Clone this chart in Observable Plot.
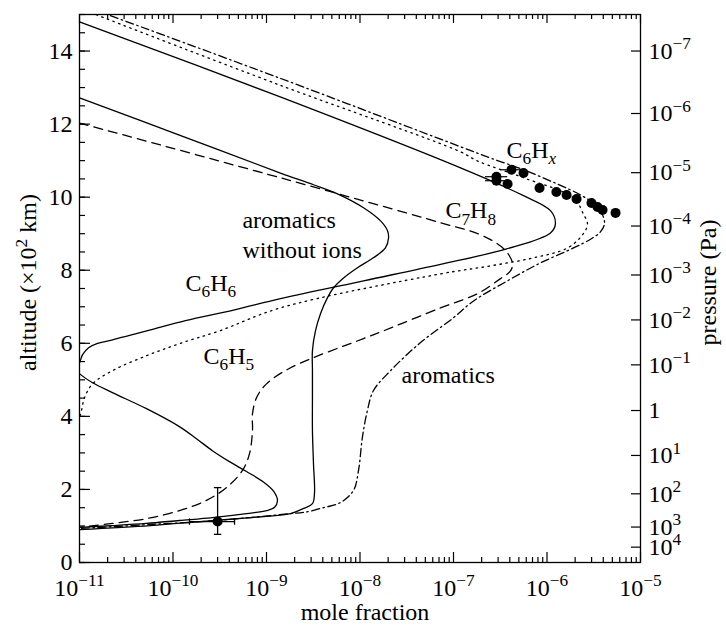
<!DOCTYPE html>
<html><head><meta charset="utf-8">
<script src="https://cdn.jsdelivr.net/npm/d3@7"></script>
<script src="https://cdn.jsdelivr.net/npm/@observablehq/plot@0.6"></script>
<style>body{margin:0;background:#fff} svg text{font-family:"Liberation Serif","Times New Roman",serif;}</style>
</head><body><div id="chart"></div>
<script>
// ---- data: [mole fraction, altitude (x100 km)] ----
const c6h6 = [[1.0e-11,14.80],[1.38e-9,12.75],[1.19e-7,10.80],[5.61e-7,10.04],[1.09e-6,9.63],[1.23e-6,9.27],[1.09e-6,9.02],[3.78e-7,8.59],[7.26e-8,8.16],[1.09e-8,7.71],[1.41e-9,7.22],[4.44e-10,6.91],[1.36e-10,6.62],[5.61e-11,6.36],[3.43e-11,6.22],[2.15e-11,6.08],[1.56e-11,6.00],[1.25e-11,5.88],[1.08e-11,5.69],[1.0e-11,5.47],[9.3e-12,5.36]];
const c6h5 = [[9.3e-12,5.26],[1.0e-11,5.17],[1.38e-11,4.92],[2.25e-11,4.65],[5.21e-11,4.21],[1.17e-10,3.72],[1.78e-10,3.39],[2.64e-10,3.06],[4.02e-10,2.76],[6.11e-10,2.49],[9.2e-10,2.21],[1.2e-9,1.94],[1.31e-9,1.69],[1.22e-9,1.51],[1.0e-9,1.42],[6.11e-10,1.34],[2.64e-10,1.23],[1.17e-10,1.15],[5.21e-11,1.07],[2.25e-11,1.01],[1.0e-11,0.96],[9e-12,0.95]];
const aromaticsNoIons = [[1.0e-11,12.72],[1.17e-10,11.70],[1.41e-9,10.66],[3.18e-9,10.34],[5.74e-9,10.09],[1.09e-8,9.71],[1.66e-8,9.35],[1.97e-8,9.08],[2.02e-8,8.89],[1.87e-8,8.61],[1.39e-8,8.34],[9.4e-9,8.07],[6.67e-9,7.79],[5.21e-9,7.52],[4.49e-9,7.25],[3.78e-9,6.81],[3.34e-9,6.34],[3.10e-9,5.80],[3.10e-9,5.25],[3.10e-9,4.51],[3.10e-9,3.61],[3.18e-9,2.71],[3.26e-9,1.89],[3.10e-9,1.61],[2.49e-9,1.48],[1.81e-9,1.34],[6.75e-10,1.23],[1.97e-10,1.12],[5.74e-11,1.01],[1.0e-11,0.90]];
const c7h8 = [[1.0e-11,12.03],[1.41e-9,10.53],[7.26e-8,9.30],[1.95e-7,8.97],[3.26e-7,8.64],[3.97e-7,8.39],[4.28e-7,8.18],[4.07e-7,7.98],[3.18e-7,7.77],[1.81e-7,7.36],[7.26e-8,6.97],[1.78e-8,6.34],[1.09e-8,6.13],[1.81e-9,5.33],[1.0e-9,4.89],[7.82e-10,4.51],[7.08e-10,4.07],[7.08e-10,3.61],[6.58e-10,2.98],[5.53e-10,2.52],[3.73e-10,2.05],[2.28e-10,1.70],[1.17e-10,1.42],[5.21e-11,1.20],[2.25e-11,1.07],[1.0e-11,0.96]];
const c6hxModel = [[1.0e-11,15.18],[1.56e-11,14.98],[1.38e-9,13.07],[1.19e-7,11.24],[1.81e-7,10.99],[5.61e-7,10.53],[1.92e-6,9.98],[2.45e-6,9.54],[2.71e-6,9.27],[2.45e-6,9.00],[1.66e-6,8.61],[7.18e-7,8.34],[2.49e-7,8.12],[7.26e-8,7.90],[1.41e-9,6.97],[3.14e-10,6.34],[1.17e-10,5.99],[5.21e-11,5.66],[2.25e-11,5.25],[1.38e-11,4.89],[1.13e-11,4.51],[1.05e-11,4.16],[1.0e-11,3.96]];
const aromatics = [[1.0e-11,15.28],[2.09e-11,14.98],[1.38e-9,13.26],[1.19e-7,11.38],[2.49e-7,11.07],[5.61e-7,10.75],[1.29e-6,10.36],[2.28e-6,10.06],[3.30e-6,9.79],[3.93e-6,9.51],[4.12e-6,9.27],[3.73e-6,9.05],[2.92e-6,8.85],[1.92e-6,8.61],[8.51e-7,8.20],[3.78e-7,7.71],[1.64e-7,7.16],[1.0e-7,6.70],[4.44e-8,6.02],[2.12e-8,5.25],[1.39e-8,4.70],[1.20e-8,4.16],[1.06e-8,3.42],[9.64e-9,2.52],[8.51e-9,1.97],[6.18e-9,1.64],[4.07e-9,1.50],[2.49e-9,1.37],[1.81e-9,1.34],[6.75e-10,1.23],[1.97e-10,1.12],[5.74e-11,1.04],[1.0e-11,0.93]];

// observations
const c6hxObs = [[4.17e-7,10.75],[5.61e-7,10.66],[2.88e-7,10.56],[2.88e-7,10.45],[3.79e-7,10.36],[8.32e-7,10.25],[1.26e-6,10.14],[1.62e-6,10.06],[2.07e-6,9.95],[2.99e-6,9.84],[3.47e-6,9.73],[3.93e-6,9.65],[5.41e-6,9.57]];
const c6hxXErr = [[10.75,3.2e-7,5.4e-7],[10.56,2.2e-7,3.8e-7],[10.45,2.2e-7,3.8e-7]];
const lowObs = [[3.0e-10,1.12]];
const lowObsXErr = [1.5e-10, 4.55e-10];
const lowObsYErr = [0.77, 2.05];

// ticks & labels
const xDecades = [1e-11,1e-10,1e-9,1e-8,1e-7,1e-6,1e-5];
const xTickLabels = ["10^{−11}","10^{−10}","10^{−9}","10^{−8}","10^{−7}","10^{−6}","10^{−5}"];
const yTicks = [0,2,4,6,8,10,12,14];
const pressureAlt = [14.0,12.29,10.67,9.21,7.87,6.64,5.41,4.16,2.93,1.88,0.97,0.42];
const pressureLabels = ["10^{−7}","10^{−6}","10^{−5}","10^{−4}","10^{−3}","10^{−2}","10^{−1}","1","10^{1}","10^{2}","10^{3}","10^{4}"];
const curveLabels = [
  {x:3.69e-7, y:11.29, text:"C_{6}H_{*x*}"},
  {x:8.2e-8,  y:9.64,  text:"C_{7}H_{8}"},
  {x:1.36e-10,y:7.65,  text:"C_{6}H_{6}"},
  {x:2.12e-10,y:5.65,  text:"C_{6}H_{5}"},
  {x:5.53e-10,y:9.37,  text:"aromatics"},
  {x:5.53e-10,y:8.55,  text:"without ions"},
  {x:2.78e-8, y:5.13,  text:"aromatics"}
];
const xTitle = "mole fraction";
const yTitle = "altitude (×10^{2} km)";
const y2Title = "pressure (Pa)";

// ---- layout ----
const W = 726, H = 627, mL = 79, mR = 86, mT = 14, mB = 65;
const pw = W - mL - mR, ph = H - mT - mB;
const FS = 24;
const FF = "Liberation Serif, Times New Roman, serif";
const minorX = xDecades.slice(0, -1).flatMap(d => [2,3,4,5,6,7,8,9].map(k => k * d));
const minorY = d3.range(0, 15.01, 0.5);
const pressure = pressureAlt.map((a, i) => ({alt: a, label: pressureLabels[i]}));
const px = d => d[0], py = d => d[1];
const lineOpts = {x: px, y: py, curve: "catmull-rom", stroke: "black", strokeWidth: 1.3, clip: true};
const txt = {fontSize: FS, fontFamily: FF, fill: "black"};
const hCap = {draw(ctx, size) { const w = Math.sqrt(size); ctx.moveTo(-w, 0); ctx.lineTo(w, 0); }};
const vCap = {draw(ctx, size) { const w = Math.sqrt(size); ctx.moveTo(0, -w); ctx.lineTo(0, w); }};

const svg = Plot.plot({
  width: W, height: H,
  marginLeft: mL, marginRight: mR, marginTop: mT, marginBottom: mB,
  style: {fontFamily: FF, fontSize: FS + "px", background: "white", color: "black"},
  x: {type: "log", domain: [1e-11, 1e-5], axis: null},
  y: {domain: [0, 15], axis: null},
  marks: [
    Plot.line(c6h6, lineOpts),
    Plot.line(c6h5, lineOpts),
    Plot.line(aromaticsNoIons, lineOpts),
    Plot.line(c7h8, {...lineOpts, strokeDasharray: "9,6"}),
    Plot.line(c6hxModel, {...lineOpts, strokeDasharray: "1.5,4.5"}),
    Plot.line(aromatics, {...lineOpts, strokeDasharray: "8,3.5,1.5,3.5"}),
    // error bars
    Plot.ruleY(c6hxXErr, {y: d => d[0], x1: d => d[1], x2: d => d[2], stroke: "black", strokeWidth: 1.2}),
    Plot.ruleX(lowObs, {x: px, y1: lowObsYErr[0], y2: lowObsYErr[1], stroke: "black", strokeWidth: 1.3}),
    Plot.ruleY(lowObs, {y: py, x1: lowObsXErr[0], x2: lowObsXErr[1], stroke: "black", strokeWidth: 1.3}),
    Plot.dot(lowObsYErr.map(v => [lowObs[0][0], v]), {x: px, y: py, symbol: hCap, r: 2.1, stroke: "black", fill: "none", strokeWidth: 1.3}),
    Plot.dot(lowObsXErr.map(v => [v, lowObs[0][1]]), {x: px, y: py, symbol: vCap, r: 1.8, stroke: "black", fill: "none", strokeWidth: 1.3}),
    Plot.dot(c6hxObs, {x: px, y: py, r: 5, fill: "black", stroke: "none"}),
    Plot.dot(lowObs, {x: px, y: py, r: 5, fill: "black", stroke: "none"}),
    // ticks (inward)
    Plot.ruleY(yTicks, {y: d => d, insetRight: pw - 11, stroke: "black", strokeWidth: 1.2}),
    Plot.ruleY(minorY, {y: d => d, insetRight: pw - 6, stroke: "black", strokeWidth: 1.2}),
    Plot.ruleY(pressureAlt, {y: d => d, insetLeft: pw - 9, stroke: "black", strokeWidth: 1.2}),
    Plot.ruleX(xDecades, {x: d => d, insetTop: ph - 10, stroke: "black", strokeWidth: 1.2}),
    Plot.ruleX(minorX, {x: d => d, insetTop: ph - 5, stroke: "black", strokeWidth: 1.2}),
    Plot.ruleX(xDecades, {x: d => d, insetBottom: ph - 9, stroke: "black", strokeWidth: 1.2}),
    Plot.ruleX(minorX, {x: d => d, insetBottom: ph - 5, stroke: "black", strokeWidth: 1.2}),
    Plot.frame({stroke: "black", strokeWidth: 1.3}),
    // tick labels
    Plot.axisY(yTicks, {anchor: "left", tickSize: 0, tickPadding: 7, label: null, ...txt}),
    Plot.axisX(xDecades, {anchor: "bottom", tickSize: 0, tickPadding: 16, label: null, ...txt,
      tickFormat: d => xTickLabels[xDecades.indexOf(d)]}),
    Plot.text(pressure, {y: "alt", text: "label", frameAnchor: "right", dx: 8, textAnchor: "start", lineAnchor: "middle", ...txt}),
    // annotations
    Plot.text(curveLabels, {x: "x", y: "y", text: "text", textAnchor: "start", lineAnchor: "middle", ...txt}),
    // titles
    Plot.text([xTitle], {text: d => d, frameAnchor: "bottom", textAnchor: "middle", lineAnchor: "middle", dx: 5, dy: 50, ...txt}),
    Plot.text([yTitle], {text: d => d, frameAnchor: "left", textAnchor: "middle", lineAnchor: "middle", dx: -51, dy: -6, rotate: -90, ...txt}),
    Plot.text([y2Title], {text: d => d, frameAnchor: "right", textAnchor: "middle", lineAnchor: "middle", dx: 68, dy: -6, rotate: -90, ...txt})
  ]
});
svg.setAttribute("font-family", FF);
document.getElementById("chart").appendChild(svg);

// convert ^{..} / _{..} / *..* markup into real tspans
function richify(root) {
  const NS = "http://www.w3.org/2000/svg";
  root.querySelectorAll("text").forEach(el => {
    const s = el.textContent;
    if (!/[\^_]\{|\*/.test(s)) return;
    const fs = parseFloat(getComputedStyle(el).fontSize) || FS;
    el.textContent = "";
    let shift = 0;
    const add = (t0, mode, italic) => {
      if (!t0) return;
      const t = document.createElementNS(NS, "tspan");
      t.textContent = t0;
      const target = mode === "sup" ? -0.40 * fs : mode === "sub" ? 0.28 * fs : 0;
      if (target !== shift) t.setAttribute("dy", target - shift);
      shift = target;
      if (mode) t.setAttribute("font-size", 0.72 * fs);
      if (italic) t.setAttribute("font-style", "italic");
      el.appendChild(t);
    };
    const parts = s.split(/(\^\{[^}]*\}|_\{[^}]*\})/);
    for (const p of parts) {
      if (!p) continue;
      let mode = null, body = p;
      if (p.startsWith("^{")) { mode = "sup"; body = p.slice(2, -1); }
      else if (p.startsWith("_{")) { mode = "sub"; body = p.slice(2, -1); }
      body.split(/(\*[^*]*\*)/).forEach(q => {
        if (!q) return;
        if (q.startsWith("*") && q.endsWith("*") && q.length > 1) add(q.slice(1, -1), mode, true);
        else add(q, mode, false);
      });
    }
  });
  root.querySelectorAll("text").forEach(el => el.setAttribute("font-family", FF));
}
richify(svg);
</script>
</body></html>
